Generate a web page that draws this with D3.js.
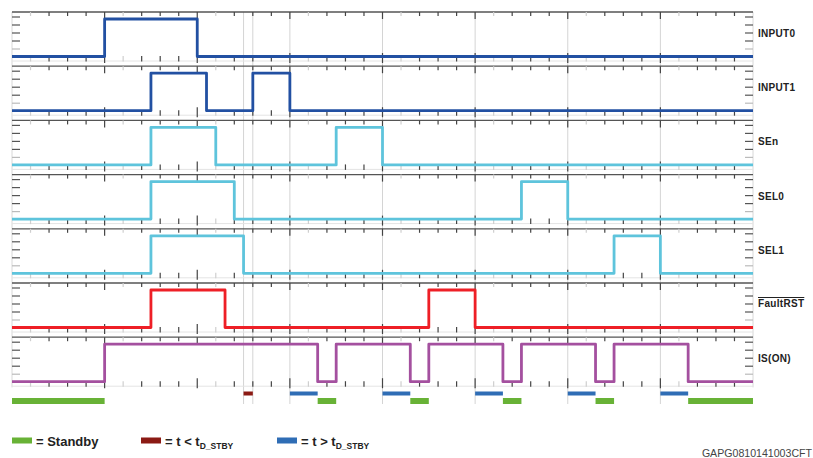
<!DOCTYPE html>
<html><head><meta charset="utf-8">
<script src="https://cdn.jsdelivr.net/npm/d3@7"></script>
<style>body{margin:0;background:#fff}svg{display:block}</style>
</head><body>
<script>
// ---- data ----
const signalNames = ["INPUT0","INPUT1","SEn","SEL0","SEL1","FaultRST","IS(ON)"];
const signalColors = ["#2250a2","#2250a2","#5ec4dc","#5ec4dc","#5ec4dc","#ee1f26","#a4509f"];
// transition times (signal starts low, toggles at each time)
const input0 = [5,10];
const input1 = [7.5,10.5,13,15];
const sen    = [7.5,11,17.5,20];
const sel0   = [7.5,12,27.5,30];
const sel1   = [7.5,12.5,32.5,35];
const faultRst = [7.5,11.5,22.5,25];
const isOn   = [5,16.5,17.5,21.5,22.5,26.5,27.5,31.5,32.5,36.5];
const transitions = [input0,input1,sen,sel0,sel1,faultRst,isOn];
// state bars [start,end]
const standbyBars = [[0,5],[16.5,17.5],[21.5,22.5],[26.5,27.5],[31.5,32.5],[36.5,40]];
const shortBars   = [[12.5,13]];
const longBars    = [[15,16.5],[20,21.5],[25,26.5],[30,31.5],[35,36.5]];
const gridTimes   = [12.5,13,15,20,25,30,35];
const timeDomain  = [0,40];
const legendItems = [
  {label:"= Standby", sub:"", color:"#68b236"},
  {label:"= t < t", sub:"D_STBY", color:"#8b1a14"},
  {label:"= t > t", sub:"D_STBY", color:"#2f6db5"}
];
const figureId = "GAPG0810141003CFT";

// ---- drawing ----
const W = 813, H = 458;
const svg = d3.select("body").append("svg").attr("width",W).attr("height",H);
const x = d3.scaleLinear().domain(timeDomain).range([12,753]);
const band = d3.scaleBand().domain(signalNames).range([12,391.4]).padding(0);

// faint grid lines
svg.append("g").selectAll("line").data(gridTimes).join("line")
  .attr("x1",d=>x(d)).attr("x2",d=>x(d)).attr("y1",12).attr("y2",404)
  .attr("stroke","#d4d4d4").attr("stroke-width",1);

// frame sides
svg.append("g").selectAll("line").data(timeDomain).join("line")
  .attr("x1",d=>x(d)).attr("x2",d=>x(d)).attr("y1",12).attr("y2",band.range()[1]-4)
  .attr("stroke","#d8d8d8").attr("stroke-width",1);

const minorTicks = d3.range(timeDomain[0], timeDomain[1]+1, 1);

signalNames.forEach((name,i)=>{
  const top = band(name);
  const g = svg.append("g");
  const y = d3.scaleLinear().domain([0,1]).range([top+44.5, top+7]);
  g.append("line").attr("x1",x(0)).attr("x2",x(40)).attr("y1",top).attr("y2",top)
    .attr("stroke","#555").attr("stroke-width",1.3);
  g.append("line").attr("x1",x(0)).attr("x2",x(40)).attr("y1",top+49).attr("y2",top+49)
    .attr("stroke","#e4e4e4").attr("stroke-width",1);
  g.append("g").selectAll("line").data(minorTicks.filter(t=>t>0&&t<40)).join("line")
    .attr("x1",d=>x(d)).attr("x2",d=>x(d)).attr("y1",top)
    .attr("y2",d=> top + (d%5===0?7:4))
    .attr("stroke",d=> (d%5===1)?"#cfcfcf":"#444").attr("stroke-width",1.2);
  g.append("g").selectAll("line").data(minorTicks.filter(t=>t>0&&t<40)).join("line")
    .attr("x1",d=>x(d)).attr("x2",d=>x(d))
    .attr("y1",d=> top + (d%5===0?41:44))
    .attr("y2",d=> top + (d%5===0?51:49.5))
    .attr("stroke",d=> (d%5===1)?"#cfcfcf":"#444").attr("stroke-width",1.2);
  const yLevels = [0,0.25,0.5,0.75,1];
  const yt = d3.scaleLinear().domain([0,1]).range([top+37, top+5]);
  [[x(0),x(0)+8],[x(40)-8,x(40)]].forEach(([a,b])=>{
    g.append("g").selectAll("line").data(yLevels).join("line")
      .attr("x1",a).attr("x2",b).attr("y1",d=>yt(d)).attr("y2",d=>yt(d))
      .attr("stroke",(d,k)=> k===0?"#bbb":"#555").attr("stroke-width",1.2);
  });
  const pts = [[timeDomain[0],0]];
  let lvl = 0;
  transitions[i].forEach(t=>{ pts.push([t,lvl]); lvl = 1-lvl; pts.push([t,lvl]); });
  pts.push([timeDomain[1],lvl]);
  const line = d3.line().x(d=>x(d[0])).y(d=>y(d[1]));
  g.append("path").attr("d",line(pts)).attr("fill","none")
    .attr("stroke",signalColors[i]).attr("stroke-width",2.8).attr("stroke-linejoin","round");
  const lab = g.append("text").attr("x",758).attr("y",top+25)
    .attr("font-family","Liberation Sans, Arial, sans-serif").attr("font-weight","bold")
    .attr("font-size",10).attr("letter-spacing",0.3).attr("fill","#222").text(name);
  if(name==="FaultRST") lab.attr("text-decoration","overline").attr("y",top+24);
});

const bars = svg.append("g");
bars.selectAll(".sb").data(standbyBars).join("rect")
  .attr("x",d=>x(d[0])).attr("width",d=>x(d[1])-x(d[0])).attr("y",398).attr("height",6)
  .attr("fill","#68b236");
bars.selectAll(".sh").data(shortBars).join("rect").attr("class","sh")
  .attr("x",d=>x(d[0])).attr("width",d=>x(d[1])-x(d[0])).attr("y",391.5).attr("height",4)
  .attr("fill","#8b1a14");
bars.selectAll(".lg").data(longBars).join("rect").attr("class","lg")
  .attr("x",d=>x(d[0])).attr("width",d=>x(d[1])-x(d[0])).attr("y",391.5).attr("height",4)
  .attr("fill","#2f6db5");

const legX = [12,141,277];
legendItems.forEach((it,k)=>{
  const g = svg.append("g").attr("transform",`translate(${legX[k]},0)`);
  g.append("rect").attr("x",0).attr("y",437.5).attr("width",20).attr("height",6).attr("fill",it.color);
  const t = g.append("text").attr("x",24).attr("y",446)
    .attr("font-family","Liberation Sans, Arial, sans-serif").attr("font-weight","bold")
    .attr("font-size",13).attr("fill","#222").text(it.label);
  if(it.sub) t.append("tspan").attr("dy",3).attr("font-size",8.5).text(it.sub);
});

svg.append("text").attr("x",812).attr("y",457).attr("text-anchor","end")
  .attr("font-family","Liberation Sans, Arial, sans-serif").attr("font-size",10.6)
  .attr("fill","#444").text(figureId);
</script>
</body></html>
